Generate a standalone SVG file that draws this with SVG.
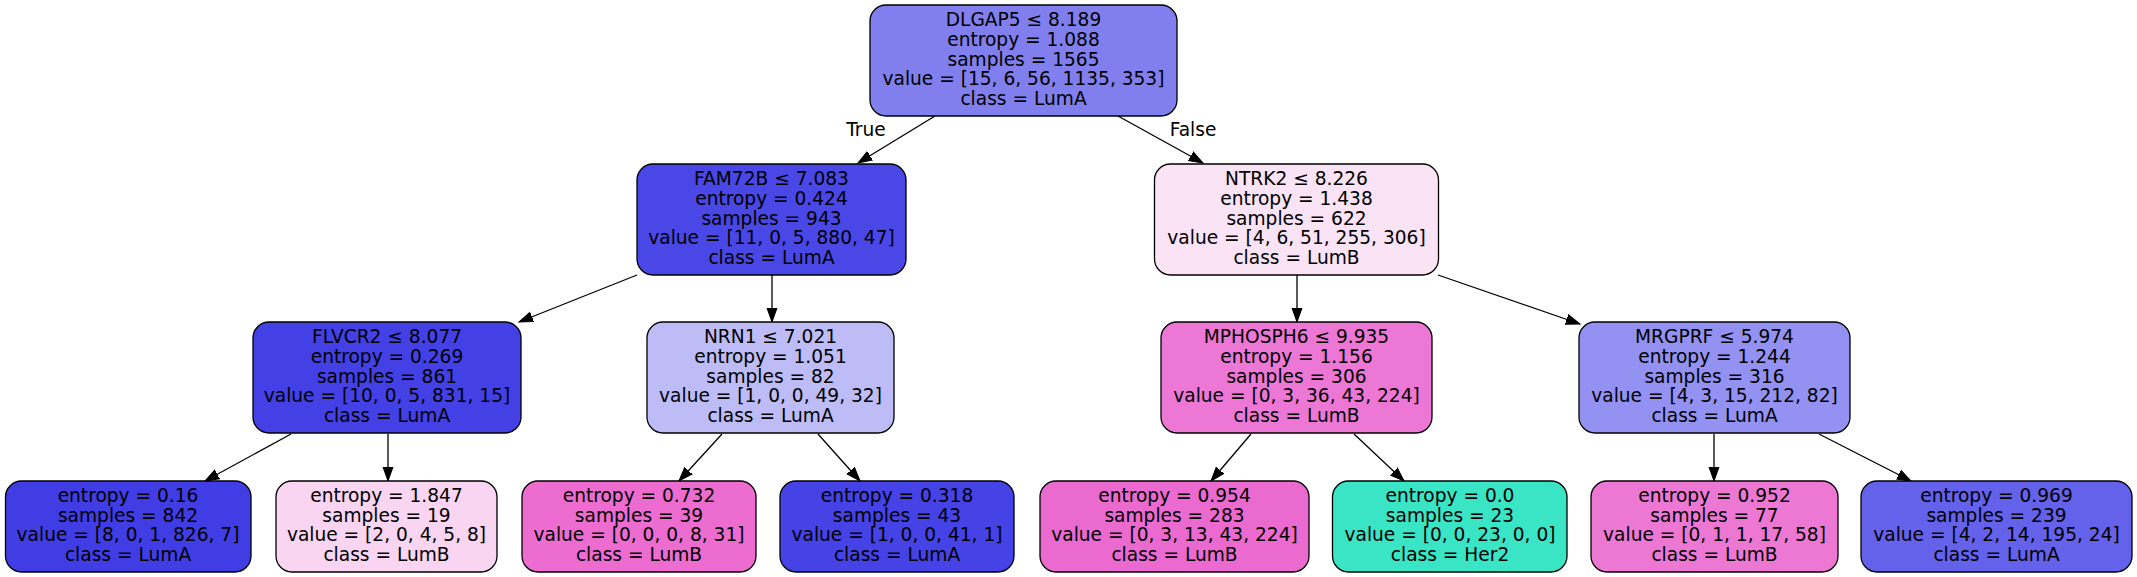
<svg xmlns="http://www.w3.org/2000/svg" width="2137" height="577" viewBox="0 0 2137 577">
<defs>
<marker id="ah" markerUnits="userSpaceOnUse" markerWidth="16" markerHeight="12" refX="14" refY="5" orient="auto" viewBox="0 0 16 10">
<path d="M0,0 L14,5 L0,10 Z" fill="#000" stroke="#000" stroke-width="1"/>
</marker>
</defs>
<style>
rect{stroke:#000;stroke-width:1.3}
text{font-family:"DejaVu Sans",sans-serif;font-size:18.6px;fill:#000;text-anchor:middle}
.e line{stroke:#000;stroke-width:1.3;marker-end:url(#ah)}
</style>
<rect width="2137" height="577" fill="#fff" style="stroke:none"/>
<g class="e" id="connectors">
<line x1="935" y1="116" x2="858" y2="163"/>
<line x1="1118" y1="116" x2="1203" y2="163"/>
<line x1="637" y1="275" x2="519" y2="322"/>
<line x1="772" y1="275" x2="772" y2="322"/>
<line x1="1297" y1="275" x2="1297" y2="322"/>
<line x1="1438" y1="275" x2="1580" y2="324"/>
<line x1="291" y1="434" x2="205" y2="481"/>
<line x1="388" y1="434" x2="388" y2="481"/>
<line x1="722" y1="434" x2="679" y2="481"/>
<line x1="818" y1="434" x2="860" y2="481"/>
<line x1="1251" y1="434" x2="1211" y2="481"/>
<line x1="1354" y1="434" x2="1404" y2="481"/>
<line x1="1714" y1="434" x2="1714" y2="481"/>
<line x1="1819" y1="434" x2="1911" y2="481"/>
<text x="866" y="136">True</text>
<text x="1193" y="136">False</text>
</g>
<g id="n0"><rect x="870" y="5" width="307" height="111" rx="16" fill="#817fee"/>
<text x="1023.5" y="26">DLGAP5 ≤ 8.189</text><text x="1023.5" y="46">entropy = 1.088</text><text x="1023.5" y="65.5">samples = 1565</text><text x="1023.5" y="85">value = [15, 6, 56, 1135, 353]</text><text x="1023.5" y="105">class = LumA</text></g>
<g id="n1"><rect x="637" y="164" width="269" height="111" rx="16" fill="#4a47e7"/>
<text x="771.5" y="185">FAM72B ≤ 7.083</text><text x="771.5" y="205">entropy = 0.424</text><text x="771.5" y="224.5">samples = 943</text><text x="771.5" y="244">value = [11, 0, 5, 880, 47]</text><text x="771.5" y="264">class = LumA</text></g>
<g id="n2"><rect x="253" y="322" width="268" height="111" rx="16" fill="#4340e6"/>
<text x="387" y="343">FLVCR2 ≤ 8.077</text><text x="387" y="363">entropy = 0.269</text><text x="387" y="382.5">samples = 861</text><text x="387" y="402">value = [10, 0, 5, 831, 15]</text><text x="387" y="422">class = LumA</text></g>
<g id="n3"><rect x="5.5" y="481" width="245.5" height="91" rx="16" fill="#403de5"/>
<text x="128" y="502">entropy = 0.16</text><text x="128" y="521.5">samples = 842</text><text x="128" y="541">value = [8, 0, 1, 826, 7]</text><text x="128" y="561">class = LumA</text></g>
<g id="n4"><rect x="276" y="481" width="221" height="91" rx="16" fill="#f9d5f2"/>
<text x="386.5" y="502">entropy = 1.847</text><text x="386.5" y="521.5">samples = 19</text><text x="386.5" y="541">value = [2, 0, 4, 5, 8]</text><text x="386.5" y="561">class = LumB</text></g>
<g id="n5"><rect x="647" y="322" width="247" height="111" rx="16" fill="#bdbcf6"/>
<text x="770.5" y="343">NRN1 ≤ 7.021</text><text x="770.5" y="363">entropy = 1.051</text><text x="770.5" y="382.5">samples = 82</text><text x="770.5" y="402">value = [1, 0, 0, 49, 32]</text><text x="770.5" y="422">class = LumA</text></g>
<g id="n6"><rect x="522" y="481" width="234" height="91" rx="16" fill="#ec6cd0"/>
<text x="639" y="502">entropy = 0.732</text><text x="639" y="521.5">samples = 39</text><text x="639" y="541">value = [0, 0, 0, 8, 31]</text><text x="639" y="561">class = LumB</text></g>
<g id="n7"><rect x="780" y="481" width="234" height="91" rx="16" fill="#4542e6"/>
<text x="897" y="502">entropy = 0.318</text><text x="897" y="521.5">samples = 43</text><text x="897" y="541">value = [1, 0, 0, 41, 1]</text><text x="897" y="561">class = LumA</text></g>
<g id="n8"><rect x="1154.5" y="164" width="284" height="111" rx="16" fill="#fbe3f6"/>
<text x="1296.5" y="185">NTRK2 ≤ 8.226</text><text x="1296.5" y="205">entropy = 1.438</text><text x="1296.5" y="224.5">samples = 622</text><text x="1296.5" y="244">value = [4, 6, 51, 255, 306]</text><text x="1296.5" y="264">class = LumB</text></g>
<g id="n9"><rect x="1161" y="322" width="271" height="111" rx="16" fill="#ed77d4"/>
<text x="1296.5" y="343">MPHOSPH6 ≤ 9.935</text><text x="1296.5" y="363">entropy = 1.156</text><text x="1296.5" y="382.5">samples = 306</text><text x="1296.5" y="402">value = [0, 3, 36, 43, 224]</text><text x="1296.5" y="422">class = LumB</text></g>
<g id="n10"><rect x="1040" y="481" width="269" height="91" rx="16" fill="#eb6acf"/>
<text x="1174.5" y="502">entropy = 0.954</text><text x="1174.5" y="521.5">samples = 283</text><text x="1174.5" y="541">value = [0, 3, 13, 43, 224]</text><text x="1174.5" y="561">class = LumB</text></g>
<g id="n11"><rect x="1332.5" y="481" width="234.5" height="91" rx="16" fill="#39e5c5"/>
<text x="1450" y="502">entropy = 0.0</text><text x="1450" y="521.5">samples = 23</text><text x="1450" y="541">value = [0, 0, 23, 0, 0]</text><text x="1450" y="561">class = Her2</text></g>
<g id="n12"><rect x="1579" y="322" width="271" height="111" rx="16" fill="#9391f1"/>
<text x="1714.5" y="343">MRGPRF ≤ 5.974</text><text x="1714.5" y="363">entropy = 1.244</text><text x="1714.5" y="382.5">samples = 316</text><text x="1714.5" y="402">value = [4, 3, 15, 212, 82]</text><text x="1714.5" y="422">class = LumA</text></g>
<g id="n13"><rect x="1591" y="481" width="247" height="91" rx="16" fill="#ed78d4"/>
<text x="1714.5" y="502">entropy = 0.952</text><text x="1714.5" y="521.5">samples = 77</text><text x="1714.5" y="541">value = [0, 1, 1, 17, 58]</text><text x="1714.5" y="561">class = LumB</text></g>
<g id="n14"><rect x="1861" y="481" width="271" height="91" rx="16" fill="#6461ea"/>
<text x="1996.5" y="502">entropy = 0.969</text><text x="1996.5" y="521.5">samples = 239</text><text x="1996.5" y="541">value = [4, 2, 14, 195, 24]</text><text x="1996.5" y="561">class = LumA</text></g>
</svg>
